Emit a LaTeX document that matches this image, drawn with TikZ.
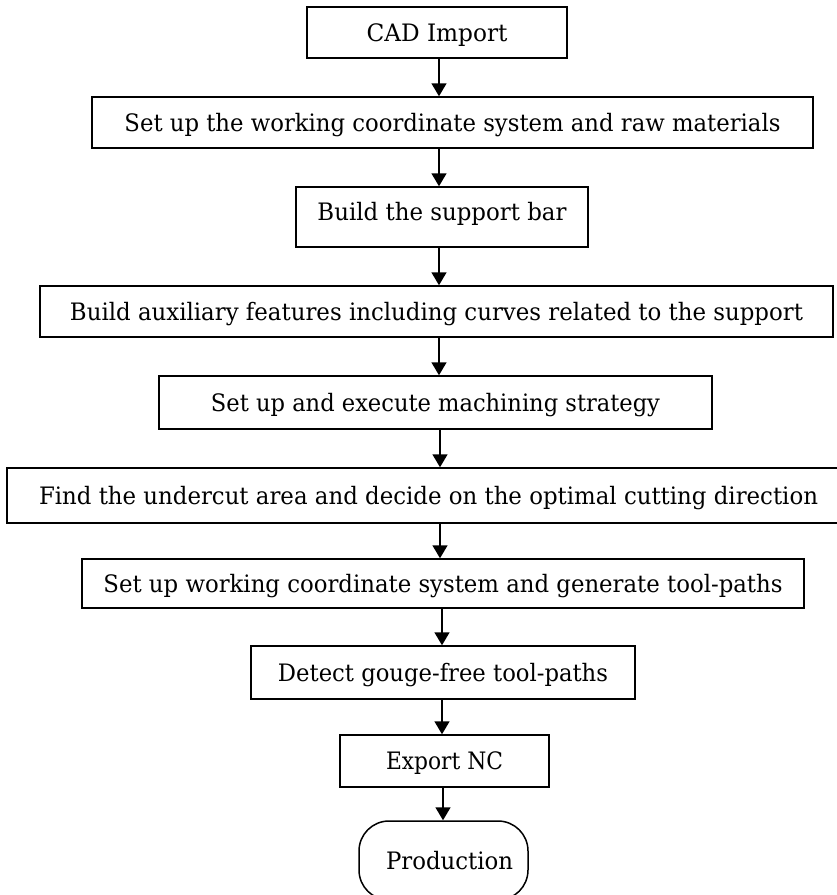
\documentclass[tikz,border=0pt]{standalone}
\usepackage{fontspec}
\setmainfont{DejaVu Serif}
\usepackage{graphicx}
\usetikzlibrary{arrows.meta}
\newcommand{\fitw}[2]{\resizebox{#1}{\height}{#2}}
\begin{document}
\begin{tikzpicture}[x=1pt,y=-1pt,
  stepbox/.style={draw,line width=1.5pt,inner sep=0pt,
    font=\fontsize{24pt}{28pt}\selectfont,text height=17.5pt,text depth=0pt},
  termbox/.style={stepbox,rounded corners=30pt},
  arr/.style={line width=1.6pt,-{Triangle[width=15pt,length=13pt]}}]
\useasboundingbox (0,0) rectangle (837,895);
\clip (0,0) rectangle (837,895);
\coordinate (xa) at (439,0);
\coordinate (xb) at (440,0);
\coordinate (xc) at (442,0);
\coordinate (xd) at (443,0);
\node[stepbox,minimum width=260pt,minimum height=51pt] (n1) at (437,32.5) {\fitw{141pt}{CAD Import}};
\node[stepbox,minimum width=721pt,minimum height=51pt] (n2) at (452.5,122.5) {\fitw{656pt}{Set up the working coordinate system and raw materials}};
\node[stepbox,minimum width=292pt,minimum height=60pt,text depth=10pt] (n3) at (442,217) {\fitw{249pt}{Build the support bar}};
\node[stepbox,minimum width=793pt,minimum height=51pt] (n4) at (436.5,311.5) {\fitw{733pt}{Build auxiliary features including curves related to the support}};
\node[stepbox,minimum width=553pt,minimum height=53pt] (n5) at (435.5,402.5) {\fitw{449pt}{Set up and execute machining strategy}};
\node[stepbox,minimum width=843pt,minimum height=55pt] (n6) at (428.5,495.5) {\fitw{779pt}{Find the undercut area and decide on the optimal cutting direction}};
\node[stepbox,minimum width=722pt,minimum height=49pt] (n7) at (443,583.5) {\fitw{679pt}{Set up working coordinate system and generate tool-paths}};
\node[stepbox,minimum width=384pt,minimum height=53pt] (n8) at (443,672.5) {\fitw{330pt}{Detect gouge-free tool-paths}};
\node[stepbox,minimum width=209pt,minimum height=52pt] (n9) at (444.5,761) {\fitw{117pt}{Export NC}};
\node[termbox,minimum width=169pt,minimum height=79pt] (n10) at (443.5,860.5) {\hspace*{12pt}\fitw{127pt}{Production}};
\draw[arr] (n1.south -| xa) -- (n2.north -| xa);
\draw[arr] (n2.south -| xa) -- (n3.north -| xa);
\draw[arr] (n3.south -| xa) -- (n4.north -| xa);
\draw[arr] (n4.south -| xa) -- (n5.north -| xa);
\draw[arr] (n5.south -| xb) -- (n6.north -| xb);
\draw[arr] (n6.south -| xb) -- (n7.north -| xb);
\draw[arr] (n7.south -| xc) -- (n8.north -| xc);
\draw[arr] (n8.south -| xc) -- (n9.north -| xc);
\draw[arr] (n9.south -| xd) -- (n10.north -| xd);
\end{tikzpicture}
\end{document}
